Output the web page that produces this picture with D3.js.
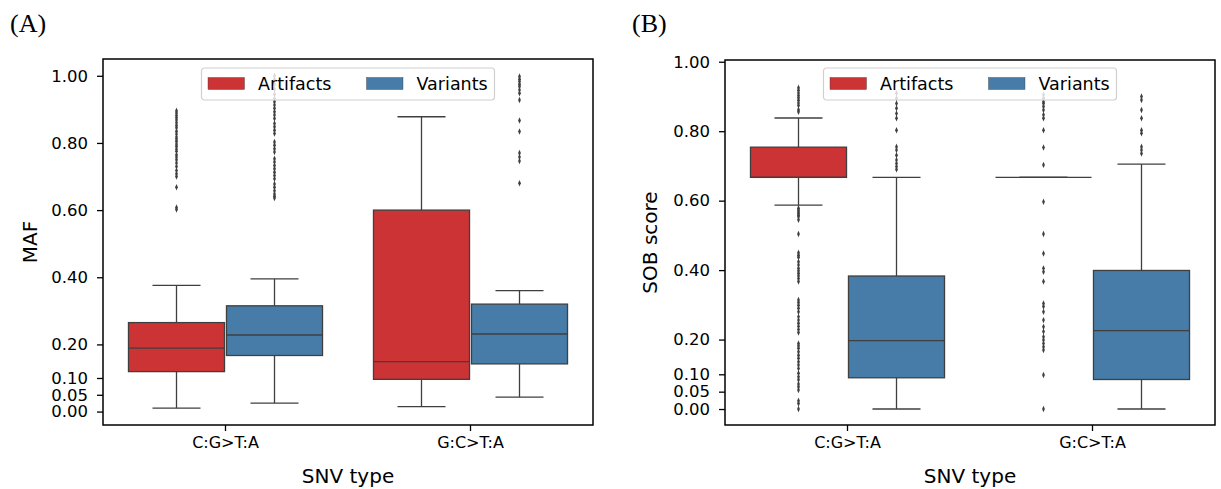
<!DOCTYPE html>
<html lang="en">
<head>
<meta charset="utf-8">
<title>MAF and SOB score by SNV type</title>
<script src="https://d3js.org/d3.v7.min.js"></script>
<style>
  body { margin: 0; background: #fff; }
  text { font-family: "DejaVu Sans", sans-serif; fill: #000; }
</style>
</head>
<body>
<script>
// categories and groups
var categories = ["C:G>T:A", "G:C>T:A"];
var groups = ["Artifacts", "Variants"];
var yTicks = [0, 0.05, 0.10, 0.20, 0.40, 0.60, 0.80, 1.00];

// box stats per category: [whisker low, q1, median, q3, whisker high]
var mafArtifactsBox = [[0.010, 0.119, 0.189, 0.265, 0.376], [0.015, 0.096, 0.149, 0.600, 0.878]];
var mafVariantsBox  = [[0.025, 0.167, 0.228, 0.315, 0.395], [0.043, 0.142, 0.231, 0.320, 0.360]];
var sobArtifactsBox = [[0.587, 0.667, 0.667, 0.754, 0.838], [0.667, 0.667, 0.667, 0.667, 0.667]];
var sobVariantsBox  = [[0.000, 0.090, 0.197, 0.383, 0.667], [0.000, 0.085, 0.226, 0.399, 0.705]];

// outliers per category
var mafArtifactsOut = [
  [0.896, 0.889, 0.882, 0.875, 0.868, 0.860, 0.852, 0.845, 0.835, 0.827, 0.818, 0.812, 0.805, 0.797,
   0.790, 0.782, 0.775, 0.765, 0.758, 0.750, 0.740, 0.730, 0.718, 0.708, 0.700, 0.668, 0.608, 0.602],
  []
];
var mafVariantsOut = [
  [1.000, 0.990, 0.975, 0.960, 0.945, 0.932, 0.923, 0.913, 0.903, 0.893, 0.883, 0.873, 0.858, 0.848,
   0.838, 0.828, 0.803, 0.793, 0.783, 0.773, 0.753, 0.743, 0.733, 0.723, 0.713, 0.703, 0.693, 0.678,
   0.668, 0.658, 0.648, 0.641, 0.636],
  [0.998, 0.990, 0.983, 0.975, 0.968, 0.958, 0.948, 0.928, 0.867, 0.834, 0.770, 0.758, 0.746, 0.680]
];
var sobArtifactsOut = [
  [0.925, 0.918, 0.910, 0.903, 0.896, 0.889, 0.881, 0.874, 0.862, 0.856,
   0.578, 0.573, 0.568, 0.563, 0.558, 0.554, 0.545, 0.504, 0.450, 0.443, 0.437, 0.424, 0.415, 0.405,
   0.398, 0.391, 0.384, 0.376, 0.367, 0.314, 0.307, 0.299, 0.290, 0.280, 0.266, 0.256, 0.247, 0.238,
   0.229, 0.220, 0.189, 0.182, 0.175, 0.165, 0.155, 0.146, 0.136, 0.127, 0.117, 0.103, 0.093, 0.084,
   0.072, 0.064, 0.055, 0.024, 0.016, 0.000],
  [0.905, 0.895, 0.885, 0.880, 0.871, 0.861, 0.847, 0.837, 0.803, 0.753, 0.703, 0.597, 0.504, 0.448,
   0.405, 0.395, 0.367, 0.304, 0.295, 0.280, 0.256, 0.237, 0.223, 0.208, 0.199, 0.189, 0.179, 0.170,
   0.098, 0.000]
];
var sobVariantsOut = [
  [0.909, 0.895, 0.880, 0.866, 0.851, 0.837, 0.803, 0.755, 0.746, 0.731, 0.717, 0.707, 0.698, 0.690],
  [0.900, 0.890, 0.861, 0.837, 0.803, 0.794, 0.755, 0.746, 0.736]
];

var colors = ["#cb3335", "#477ca8"];
var lineColor = "#3f3f3f";

var svg = d3.select("body").append("svg")
  .attr("width", 1221)
  .attr("height", 489);

function panel(opt) {
  var x = d3.scaleBand().domain(categories).range([opt.left, opt.right]);
  var hue = d3.scaleBand().domain(groups).range([0, x.bandwidth()]).paddingOuter(0.25);
  var y = d3.scaleLinear().domain(opt.yDomain).range([opt.bottom, opt.top]);
  var bw = hue.bandwidth() * 0.98;

  var g = svg.append("g");

  // one entry per box
  var boxes = [];
  categories.forEach(function(c, ci) {
    groups.forEach(function(gr, gi) {
      boxes.push({
        cx: x(c) + hue(gr) + hue.bandwidth() / 2,
        s: opt.box[gi][ci],
        out: opt.out[gi][ci],
        color: colors[gi]
      });
    });
  });

  boxes.forEach(function(b) {
    var s = b.s;
    // whiskers
    g.append("line").attr("x1", b.cx).attr("x2", b.cx)
      .attr("y1", y(s[0])).attr("y2", y(s[1]))
      .attr("stroke", lineColor).attr("stroke-width", 1.3);
    g.append("line").attr("x1", b.cx).attr("x2", b.cx)
      .attr("y1", y(s[3])).attr("y2", y(s[4]))
      .attr("stroke", lineColor).attr("stroke-width", 1.3);
    // caps
    [s[0], s[4]].forEach(function(v) {
      g.append("line").attr("x1", b.cx - bw / 4).attr("x2", b.cx + bw / 4)
        .attr("y1", y(v)).attr("y2", y(v))
        .attr("stroke", lineColor).attr("stroke-width", 1.3);
    });
    // box
    g.append("rect")
      .attr("x", b.cx - bw / 2).attr("width", bw)
      .attr("y", y(s[3])).attr("height", Math.max(0, y(s[1]) - y(s[3])))
      .attr("fill", b.color).attr("stroke", lineColor).attr("stroke-width", 1.3);
    // median
    g.append("line").attr("x1", b.cx - bw / 2).attr("x2", b.cx + bw / 2)
      .attr("y1", y(s[2])).attr("y2", y(s[2]))
      .attr("stroke", lineColor).attr("stroke-width", 1.3);
    // outliers (thin diamonds)
    g.selectAll(null).data(b.out).enter().append("path")
      .attr("d", d3.symbol(d3.symbolDiamond, 12))
      .attr("transform", function(d) { return "translate(" + b.cx + "," + y(d) + ") scale(0.75,1)"; })
      .attr("fill", lineColor);
  });

  // y axis
  var ya = g.append("g").attr("transform", "translate(" + opt.left + ",0)")
    .call(d3.axisLeft(y).tickValues(yTicks).tickFormat(d3.format(".2f")).tickSize(6).tickPadding(9));
  ya.select(".domain").remove();
  ya.selectAll("line").attr("stroke", "#000").attr("stroke-width", 1.3);
  ya.selectAll("text").style("font-size", "16.5px").style("font-family", "DejaVu Sans");

  // x axis
  var xa = g.append("g").attr("transform", "translate(0," + opt.bottom + ")")
    .call(d3.axisBottom(x).tickSize(6).tickPadding(6));
  xa.select(".domain").remove();
  xa.selectAll("line").attr("stroke", "#000").attr("stroke-width", 1.3);
  xa.selectAll("text").style("font-size", "16px").style("font-family", "DejaVu Sans");

  // frame
  g.append("rect")
    .attr("x", opt.left).attr("y", opt.top)
    .attr("width", opt.right - opt.left).attr("height", opt.bottom - opt.top)
    .attr("fill", "none").attr("stroke", "#000").attr("stroke-width", 1.5);

  // axis labels
  g.append("text")
    .attr("x", (opt.left + opt.right) / 2).attr("y", 483)
    .attr("text-anchor", "middle").style("font-size", "20px")
    .text("SNV type");
  g.append("text")
    .attr("transform", "translate(" + opt.ylabX + "," + (opt.top + opt.bottom) / 2 + ") rotate(-90)")
    .attr("text-anchor", "middle").style("font-size", "20px")
    .text(opt.ylabel);

  // panel letter
  g.append("text")
    .attr("x", opt.letterX).attr("y", 32)
    .style("font-family", "Liberation Serif, serif").style("font-size", "26px")
    .text(opt.letter);

  // legend
  var lw = 293, lh = 32;
  var lx = (opt.left + opt.right) / 2 - lw / 2, ly = 68;
  var lg = g.append("g").attr("transform", "translate(" + lx + "," + ly + ")");
  lg.append("rect").attr("width", lw).attr("height", lh).attr("rx", 3)
    .attr("fill", "#fff").attr("fill-opacity", 0.8)
    .attr("stroke", "#d0d0d0").attr("stroke-width", 1.2);
  var itemX = [6.5, 165];
  groups.forEach(function(gr, gi) {
    lg.append("rect").attr("x", itemX[gi]).attr("y", 9.5).attr("width", 36.5).attr("height", 12)
      .attr("fill", colors[gi]).attr("stroke", lineColor).attr("stroke-width", 0.4);
    lg.append("text").attr("x", itemX[gi] + 50).attr("y", 21.5)
      .style("font-size", "17.5px").text(gr);
  });
}

panel({
  left: 103, right: 593, top: 59, bottom: 425,
  yDomain: [-0.04, 1.05],
  box: [mafArtifactsBox, mafVariantsBox],
  out: [mafArtifactsOut, mafVariantsOut],
  ylabel: "MAF", ylabX: 37, letter: "(A)", letterX: 10
});

panel({
  left: 725, right: 1215, top: 60, bottom: 425,
  yDomain: [-0.046, 1.005],
  box: [sobArtifactsBox, sobVariantsBox],
  out: [sobArtifactsOut, sobVariantsOut],
  ylabel: "SOB score", ylabX: 657, letter: "(B)", letterX: 632
});
</script>
</body>
</html>
